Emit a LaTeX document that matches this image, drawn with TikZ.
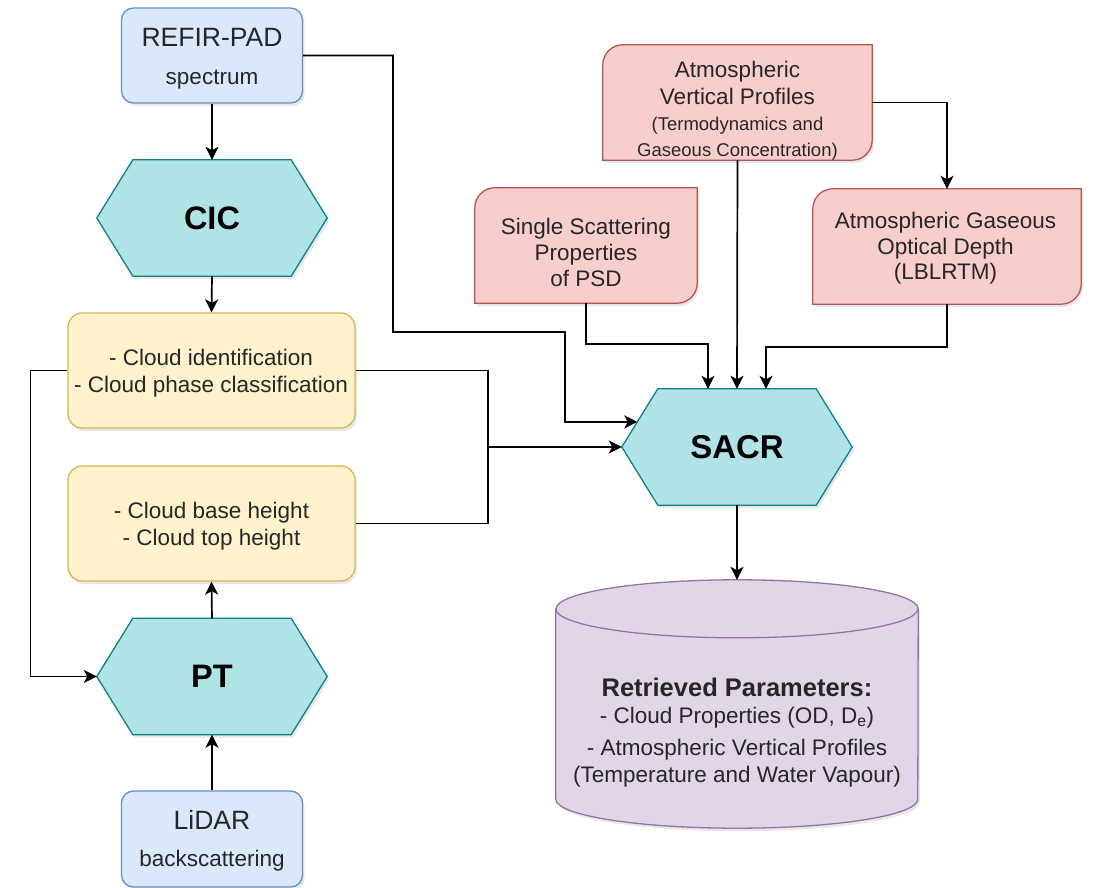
\documentclass[tikz,border=0pt]{standalone}
\usepackage{fontspec}
\setmainfont{Liberation Sans}
\usetikzlibrary{arrows.meta,calc,shadows}
\pgfdeclarelayer{background}
\pgfsetlayers{background,main}

\definecolor{inFill}{HTML}{DAE8FC}
\definecolor{inLine}{HTML}{6C8EBF}
\definecolor{procFill}{HTML}{B0E3E6}
\definecolor{procLine}{HTML}{0E8088}
\definecolor{outFill}{HTML}{FFF2CC}
\definecolor{outLine}{HTML}{D6B656}
\definecolor{auxFill}{HTML}{F8CECC}
\definecolor{auxLine}{HTML}{B85450}
\definecolor{resFill}{HTML}{E1D5E7}
\definecolor{resLine}{HTML}{9673A6}
\definecolor{ink}{HTML}{262626}

% font size helper: size and baseline skip in pt
\newcommand{\fs}[2]{\fontsize{#1}{#2}\selectfont}

% hexagon outline around a node (36pt slanted ends)
\newcommand{\hexpath}[1]{($(#1.north west)+(36,0)$) -- ($(#1.north east)+(-36,0)$) -- (#1.east)
  -- ($(#1.south east)+(-36,0)$) -- ($(#1.south west)+(36,0)$) -- (#1.west) -- cycle}
% card outline: top-left and bottom-right corners rounded (20pt)
\newcommand{\cardpath}[1]{(#1.north east) -- ($(#1.south east)+(0,-20)$)
  arc[start angle=0, end angle=-90, radius=20pt] -- (#1.south west)
  -- ($(#1.north west)+(0,20)$) arc[start angle=180, end angle=90, radius=20pt] -- cycle}

\tikzset{
  softshadow/.style={drop shadow={opacity=0.18, shadow xshift=2pt, shadow yshift=-3pt}},
  frame/.style={line width=1.3pt},
  inbox/.style={draw=inLine, fill=inFill, frame, rounded corners=12pt, softshadow,
    minimum width=181pt, minimum height=95pt},
  outbox/.style={draw=outLine, fill=outFill, frame, rounded corners=14pt, softshadow,
    minimum width=287pt, minimum height=115pt},
  auxshape/.style={draw=auxLine, fill=auxFill, frame, softshadow},
  hexbox/.style={minimum width=230pt, minimum height=116pt, inner sep=0pt, text=black,
    font=\bfseries\fs{32.5}{38}},
  hexshape/.style={draw=procLine, fill=procFill, frame, softshadow},
  words/.style={align=center, inner sep=0pt, text=ink},
  link/.style={line width=1.7pt, draw=black, -{Stealth[length=13pt,width=13pt,inset=3.5pt]}},
  wire/.style={line width=1.7pt, draw=black},
}

\begin{document}
\begin{tikzpicture}[x=1pt, y=-1pt]
\useasboundingbox (0,0) rectangle (1093,888);

% ---- left column: inputs, processors, products ----
\node[inbox] (refir) at (212,55.5) {};
\node[words, font=\fs{22.5}{38}] (refirT) at (212,58.8) {{\fs{26.5}{38}REFIR-PAD}\\spectrum};

\node[hexbox] (cic) at (212,218) {CIC};

\node[outbox] (cloudid) at (211.5,370.5) {};
\node[words, font=\fs{22.5}{27}] (cloudidT) at (211,373.6)
  {- Cloud identification\\- Cloud phase classification};

\node[outbox] (cloudh) at (211.5,523.5) {};
\node[words, font=\fs{22.5}{27}] (cloudhT) at (211.5,526.6)
  {- Cloud base height\\- Cloud top height};

\node[hexbox] (pt) at (212,676.5) {PT};

\node[inbox, minimum height=96pt] (lidar) at (212,839) {};
\node[words, font=\fs{22.5}{37}] (lidarT) at (212,841.2) {{\fs{26.5}{37}LiDAR}\\backscattering};

% ---- right part: auxiliary inputs ----
\node[inner sep=0pt, minimum width=269pt, minimum height=115pt] (avp) at (737.5,102.5) {};
\node[inner sep=0pt, minimum width=222pt, minimum height=115pt] (ss) at (586,245.5) {};
\node[inner sep=0pt, minimum width=268pt, minimum height=115pt] (gas) at (947,246.5) {};

\node[hexbox, font=\bfseries\fs{33}{38}] (sacr) at (737,447) {SACR};

% retrieval output store (cylinder body)
\node[inner sep=0pt, minimum width=362pt, minimum height=248pt] (store) at (737,704) {};

\begin{pgfonlayer}{background}
  \fill[white] (0,0) rectangle (1093,888);
  \path[hexshape] \hexpath{cic};
  \path[hexshape] \hexpath{pt};
  \path[hexshape] \hexpath{sacr};
  \path[auxshape] \cardpath{avp};
  \path[auxshape] \cardpath{ss};
  \path[auxshape] \cardpath{gas};
  \path[draw=resLine, fill=resFill, frame, softshadow]
    ($(store.north west)+(0,29)$) -- ($(store.south west)+(0,-29)$)
    arc[start angle=180, end angle=360, x radius=181pt, y radius=29pt]
    -- ($(store.north east)+(0,29)$)
    arc[start angle=0, end angle=180, x radius=181pt, y radius=29pt] -- cycle;
  \draw[resLine, frame] ($(store.north west)+(0,29)$)
    arc[start angle=180, end angle=360, x radius=181pt, y radius=29pt];
\end{pgfonlayer}

\node[words, font=\fs{22.5}{26.3}] (avpT) at (737.5,111.2)
  {Atmospheric\\Vertical Profiles\\{\fs{18.5}{26.3}(Termodynamics and}\\{\fs{18.5}{26.3}Gaseous Concentration)}};
\node[words, font=\fs{22.5}{26}] (ssT) at (586,252.8)
  {Single Scattering\\Properties\\of PSD};
\node[words, font=\fs{22.5}{25.5}] (gasT) at (945.5,248.6)
  {Atmospheric Gaseous\\Optical Depth\\(LBLRTM)};

\node[words, font=\fs{22.5}{27}] (storeT) at (737,732.2)
  {{\bfseries\fs{25.5}{27}Retrieved Parameters:}\\- Cloud Properties (OD, D\textsubscript{e})\\[5pt]%
   - Atmospheric Vertical Profiles\\(Temperature and Water Vapour)};

% ---- connector waypoints ----
\coordinate (sacrNW) at ($(sacr.north west)+(36,0)$);
\coordinate (sacrUp) at ($(sacr.west)!0.431!(sacrNW)$);
\coordinate (sacrInA) at ($(sacr.north)+(-29,0)$);
\coordinate (sacrInC) at ($(sacr.north)+(29,0)$);
\coordinate (refirTurn) at (393,332);
\coordinate (refirDrop) at (565,422);
\coordinate (bus) at (488,447);
\coordinate (ssTurn) at (708,344);
\coordinate (gasTurn) at (766,347);

% ---- connectors ----
\draw[link] (refir.south) -- (cic.north);
\draw[link] (cic.south) -- (cloudid.north);
\draw[link] (pt.north) -- (cloudh.south);
\draw[link] (lidar.north) -- (pt.south);
\draw[link] (cloudid.west) -- ++(-37,0) |- (pt.west);
\draw[wire] (cloudid.east) -| (bus) |- (cloudh.east);
\draw[link] (bus) -- (sacr.west);
\draw[link] (refir.east) -| (refirTurn) -| (refirDrop) -- (sacrUp);
\draw[link] (avp.east) -| (gas.north);
\draw[link] (ss.south) |- (ssTurn) -- (sacrInA);
\draw[link] (avp.south) -- (sacr.north);
\draw[link] (gas.south) |- (gasTurn) -- (sacrInC);
\draw[link] (sacr.south) -- (store.north);
\end{tikzpicture}
\end{document}
